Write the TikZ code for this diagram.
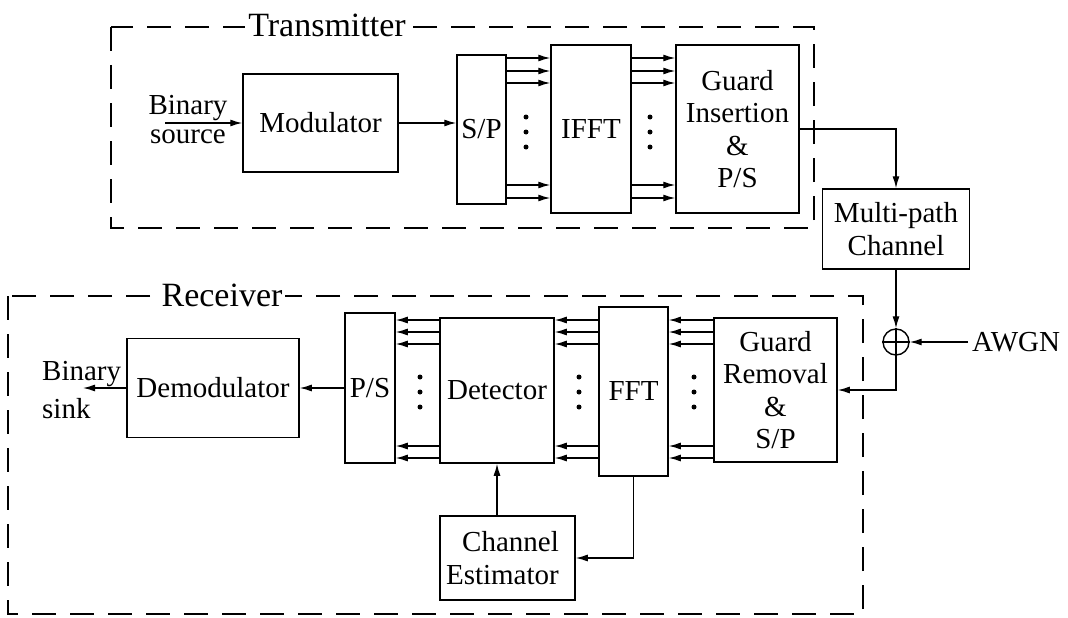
\documentclass[tikz,border=0pt]{standalone}
\usepackage{fontspec}
\setmainfont{Liberation Serif}
\usetikzlibrary{arrows.meta}
\begin{document}
\begin{tikzpicture}[x=1pt,y=-1pt,
  txt/.style={font=\fontsize{29}{32.5}\selectfont, align=center},
  blk/.style={draw, line width=1.5pt, inner sep=0pt, txt},
  arr/.style={line width=1.3pt, -{Latex[length=12pt,width=7pt]}},
  ln/.style={line width=1.3pt},
  dashbox/.style={line width=1.5pt, dash pattern=on 24pt off 14pt},
  title/.style={fill=white, inner xsep=3pt, inner ysep=1pt, font=\fontsize{34}{38}\selectfont},
  dotmark/.style={fill=black}]
\useasboundingbox (0,0) rectangle (1068,618);

% enclosing dashed frames
\draw[dashbox] (111,27) rectangle (814,228);
\draw[dashbox] (8,296) rectangle (863,614);
\node[title] (ttx) at (327,25) {Transmitter};
\node[title] (trx) at (222,295) {Receiver};

% transmitter blocks
\node[blk, minimum width=155pt, minimum height=98pt] (mod) at (320.5,123) {Modulator};
\node[blk, minimum width=49pt, minimum height=149pt] (sp) at (481.5,129.5) {S/P};
\node[blk, minimum width=80pt, minimum height=168pt] (ifft) at (591,129) {IFFT};
\node[blk, minimum width=123pt, minimum height=168pt] (gi) at (737.5,129) {Guard\\Insertion\\\&\\P/S};

% channel
\node[blk, minimum width=147pt, minimum height=80pt] (mp) at (896,229) {Multi-path\\Channel};
\node[circle, draw, line width=1.4pt, minimum size=26pt, inner sep=0pt] (add) at (896,342) {};
\draw[ln] (add.north) -- (add.south) (add.west) -- (add.east);
\node[txt, anchor=west, inner xsep=4pt] (awgn) at (968,342) {AWGN};

% receiver blocks
\node[blk, minimum width=123pt, minimum height=144pt] (gr) at (775.5,390) {Guard\\Removal\\\&\\S/P};
\node[blk, minimum width=69pt, minimum height=169pt] (fft) at (633.5,391.5) {FFT};
\node[blk, minimum width=114pt, minimum height=145pt] (det) at (497,390.5) {Detector};
\node[blk, minimum width=50pt, minimum height=150pt] (ps) at (370,388) {P/S};
\node[blk, minimum width=172pt, minimum height=99pt] (dem) at (213,388) {Demodulator};
\node[blk, minimum width=135pt, minimum height=84pt] (ce) at (507.5,558) {};
\node[txt, align=right, anchor=east, inner sep=0pt] (cetext) at (559,558) {Channel\\Estimator};

% source and sink labels
\node[txt, font=\fontsize{29}{29}\selectfont] (src) at (188,120) {Binary\\source};
\coordinate (srcin) at (165,123);
\node[txt, font=\fontsize{29}{38}\selectfont, align=left, anchor=west, inner sep=0pt] (snk) at (42,390) {Binary\\sink};
\coordinate (snkout) at (83,388);

% transmitter connections
\draw[arr] (srcin) -- (mod.west);
\draw[arr] (mod.east) -- (sp.west |- mod.east);
\foreach \y in {58,71,83,185,198} {
  \draw[arr] (sp.east |- 0,\y) -- (ifft.west |- 0,\y);
  \draw[arr] (ifft.east |- 0,\y) -- (gi.west |- 0,\y);
}
\foreach \y in {117,132,147} {
  \fill[dotmark] (526,\y) circle (2.5pt);
  \fill[dotmark] (650,\y) circle (2.5pt);
}

% channel connections
\draw[arr] (gi.east) -| (mp.north);
\draw[arr] (mp.south) -- (add.north);
\draw[arr] (awgn.west) -- (add.east);
\draw[arr] (add.south) |- (gr.east);

% receiver connections
\foreach \y in {320,332,344,446,458} {
  \draw[arr] (gr.west |- 0,\y) -- (fft.east |- 0,\y);
  \draw[arr] (fft.west |- 0,\y) -- (det.east |- 0,\y);
  \draw[arr] (det.west |- 0,\y) -- (ps.east |- 0,\y);
}
\foreach \y in {377,392,407} {
  \fill[dotmark] (420,\y) circle (2.5pt);
  \fill[dotmark] (579,\y) circle (2.5pt);
  \fill[dotmark] (694,\y) circle (2.5pt);
}
\draw[arr] (ps.west) -- (dem.east);
\draw[arr] (dem.west) -- (snkout);
\draw[arr] (det.south |- ce.north) -- (det.south);
\draw[arr] (fft.south) |- (ce.east);
\end{tikzpicture}
\end{document}
